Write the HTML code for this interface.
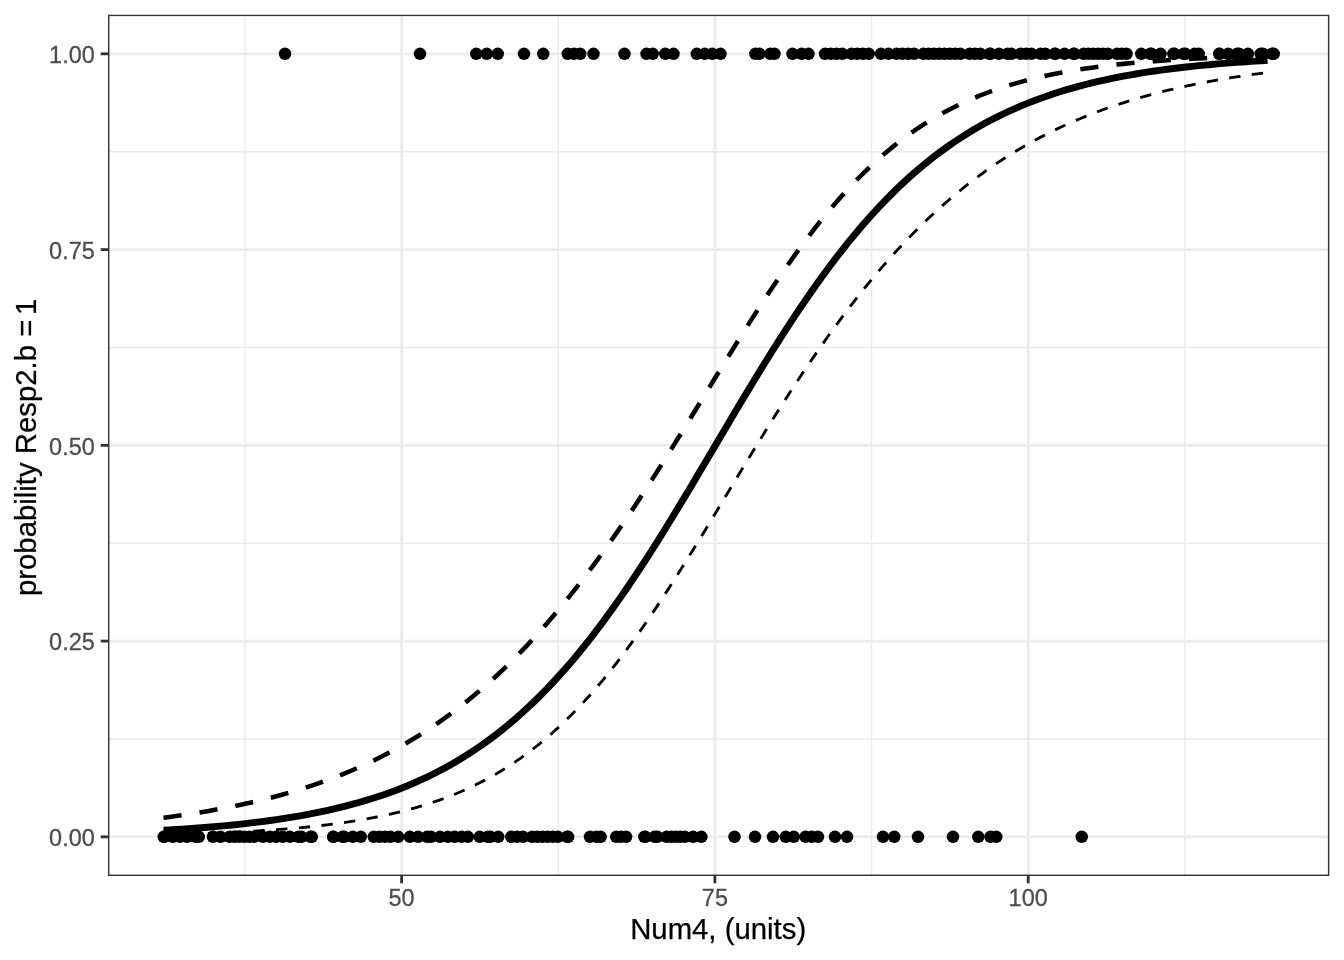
<!DOCTYPE html>
<html lang="en"><head><meta charset="utf-8"><title>Logistic fit: probability Resp2.b = 1 vs Num4</title>
<style>html,body{margin:0;padding:0;background:#fff}body{width:1344px;height:960px;overflow:hidden}svg{display:block}</style></head>
<body>
<svg width="1344" height="960" viewBox="0 0 1344 960">
<rect width="1344" height="960" fill="#fff"/>
<defs><clipPath id="pc"><rect x="108.00" y="14.67" width="1221.33" height="861.33"/></clipPath></defs>
<g clip-path="url(#pc)">
<g stroke="#ebebeb" stroke-width="1.42" fill="none">
<line x1="108.00" x2="1329.33" y1="738.97" y2="738.97"/>
<line x1="108.00" x2="1329.33" y1="543.21" y2="543.21"/>
<line x1="108.00" x2="1329.33" y1="347.46" y2="347.46"/>
<line x1="108.00" x2="1329.33" y1="151.70" y2="151.70"/>
<line x1="244.97" x2="244.97" y1="14.67" y2="876.00"/>
<line x1="558.26" x2="558.26" y1="14.67" y2="876.00"/>
<line x1="871.55" x2="871.55" y1="14.67" y2="876.00"/>
<line x1="1184.84" x2="1184.84" y1="14.67" y2="876.00"/>
</g>
<g stroke="#ebebeb" stroke-width="2.85" fill="none">
<line x1="108.00" x2="1329.33" y1="836.85" y2="836.85"/>
<line x1="108.00" x2="1329.33" y1="641.09" y2="641.09"/>
<line x1="108.00" x2="1329.33" y1="445.34" y2="445.34"/>
<line x1="108.00" x2="1329.33" y1="249.58" y2="249.58"/>
<line x1="108.00" x2="1329.33" y1="53.82" y2="53.82"/>
<line x1="401.62" x2="401.62" y1="14.67" y2="876.00"/>
<line x1="714.91" x2="714.91" y1="14.67" y2="876.00"/>
<line x1="1028.20" x2="1028.20" y1="14.67" y2="876.00"/>
</g>
<g fill="#000">
<circle cx="285.00" cy="53.82" r="6.25"/>
<circle cx="420.00" cy="53.82" r="6.25"/>
<circle cx="476.25" cy="53.82" r="6.25"/>
<circle cx="486.75" cy="53.82" r="6.25"/>
<circle cx="497.75" cy="53.82" r="6.25"/>
<circle cx="524.00" cy="53.82" r="6.25"/>
<circle cx="543.25" cy="53.82" r="6.25"/>
<circle cx="567.75" cy="53.82" r="6.25"/>
<circle cx="574.00" cy="53.82" r="6.25"/>
<circle cx="580.25" cy="53.82" r="6.25"/>
<circle cx="593.50" cy="53.82" r="6.25"/>
<circle cx="624.50" cy="53.82" r="6.25"/>
<circle cx="646.50" cy="53.82" r="6.25"/>
<circle cx="652.75" cy="53.82" r="6.25"/>
<circle cx="665.25" cy="53.82" r="6.25"/>
<circle cx="673.50" cy="53.82" r="6.25"/>
<circle cx="696.75" cy="53.82" r="6.25"/>
<circle cx="704.75" cy="53.82" r="6.25"/>
<circle cx="712.25" cy="53.82" r="6.25"/>
<circle cx="720.50" cy="53.82" r="6.25"/>
<circle cx="755.40" cy="53.82" r="6.25"/>
<circle cx="759.50" cy="53.82" r="6.25"/>
<circle cx="770.30" cy="53.82" r="6.25"/>
<circle cx="774.50" cy="53.82" r="6.25"/>
<circle cx="792.50" cy="53.82" r="6.25"/>
<circle cx="801.70" cy="53.82" r="6.25"/>
<circle cx="808.50" cy="53.82" r="6.25"/>
<circle cx="825.00" cy="53.82" r="6.25"/>
<circle cx="830.77" cy="53.82" r="6.25"/>
<circle cx="836.53" cy="53.82" r="6.25"/>
<circle cx="842.30" cy="53.82" r="6.25"/>
<circle cx="851.50" cy="53.82" r="6.25"/>
<circle cx="857.25" cy="53.82" r="6.25"/>
<circle cx="863.00" cy="53.82" r="6.25"/>
<circle cx="868.75" cy="53.82" r="6.25"/>
<circle cx="880.97" cy="53.82" r="6.25"/>
<circle cx="888.45" cy="53.82" r="6.25"/>
<circle cx="896.50" cy="53.82" r="6.25"/>
<circle cx="902.38" cy="53.82" r="6.25"/>
<circle cx="908.27" cy="53.82" r="6.25"/>
<circle cx="914.15" cy="53.82" r="6.25"/>
<circle cx="923.35" cy="53.82" r="6.25"/>
<circle cx="928.64" cy="53.82" r="6.25"/>
<circle cx="933.94" cy="53.82" r="6.25"/>
<circle cx="939.23" cy="53.82" r="6.25"/>
<circle cx="944.52" cy="53.82" r="6.25"/>
<circle cx="949.81" cy="53.82" r="6.25"/>
<circle cx="955.11" cy="53.82" r="6.25"/>
<circle cx="960.40" cy="53.82" r="6.25"/>
<circle cx="969.60" cy="53.82" r="6.25"/>
<circle cx="975.00" cy="53.82" r="6.25"/>
<circle cx="980.40" cy="53.82" r="6.25"/>
<circle cx="989.60" cy="53.82" r="6.25"/>
<circle cx="990.40" cy="53.82" r="6.25"/>
<circle cx="999.00" cy="53.82" r="6.25"/>
<circle cx="1007.60" cy="53.82" r="6.25"/>
<circle cx="1011.40" cy="53.82" r="6.25"/>
<circle cx="1020.60" cy="53.82" r="6.25"/>
<circle cx="1026.00" cy="53.82" r="6.25"/>
<circle cx="1031.40" cy="53.82" r="6.25"/>
<circle cx="1040.60" cy="53.82" r="6.25"/>
<circle cx="1045.40" cy="53.82" r="6.25"/>
<circle cx="1054.60" cy="53.82" r="6.25"/>
<circle cx="1055.40" cy="53.82" r="6.25"/>
<circle cx="1064.50" cy="53.82" r="6.25"/>
<circle cx="1073.60" cy="53.82" r="6.25"/>
<circle cx="1074.40" cy="53.82" r="6.25"/>
<circle cx="1083.60" cy="53.82" r="6.25"/>
<circle cx="1088.46" cy="53.82" r="6.25"/>
<circle cx="1093.32" cy="53.82" r="6.25"/>
<circle cx="1098.18" cy="53.82" r="6.25"/>
<circle cx="1103.04" cy="53.82" r="6.25"/>
<circle cx="1107.90" cy="53.82" r="6.25"/>
<circle cx="1117.10" cy="53.82" r="6.25"/>
<circle cx="1121.82" cy="53.82" r="6.25"/>
<circle cx="1126.55" cy="53.82" r="6.25"/>
<circle cx="1141.25" cy="53.82" r="6.25"/>
<circle cx="1150.20" cy="53.82" r="6.25"/>
<circle cx="1151.40" cy="53.82" r="6.25"/>
<circle cx="1160.53" cy="53.82" r="6.25"/>
<circle cx="1173.35" cy="53.82" r="6.25"/>
<circle cx="1174.40" cy="53.82" r="6.25"/>
<circle cx="1183.60" cy="53.82" r="6.25"/>
<circle cx="1185.40" cy="53.82" r="6.25"/>
<circle cx="1194.60" cy="53.82" r="6.25"/>
<circle cx="1198.75" cy="53.82" r="6.25"/>
<circle cx="1219.35" cy="53.82" r="6.25"/>
<circle cx="1219.40" cy="53.82" r="6.25"/>
<circle cx="1228.25" cy="53.82" r="6.25"/>
<circle cx="1237.10" cy="53.82" r="6.25"/>
<circle cx="1239.15" cy="53.82" r="6.25"/>
<circle cx="1247.92" cy="53.82" r="6.25"/>
<circle cx="1260.65" cy="53.82" r="6.25"/>
<circle cx="1262.90" cy="53.82" r="6.25"/>
<circle cx="1272.10" cy="53.82" r="6.25"/>
<circle cx="1273.75" cy="53.82" r="6.25"/>
<circle cx="163.75" cy="836.85" r="6.25"/>
<circle cx="164.15" cy="836.85" r="6.25"/>
<circle cx="172.82" cy="836.85" r="6.25"/>
<circle cx="179.95" cy="836.85" r="6.25"/>
<circle cx="187.00" cy="836.85" r="6.25"/>
<circle cx="195.60" cy="836.85" r="6.25"/>
<circle cx="198.75" cy="836.85" r="6.25"/>
<circle cx="212.98" cy="836.85" r="6.25"/>
<circle cx="220.50" cy="836.85" r="6.25"/>
<circle cx="229.60" cy="836.85" r="6.25"/>
<circle cx="234.51" cy="836.85" r="6.25"/>
<circle cx="239.42" cy="836.85" r="6.25"/>
<circle cx="244.33" cy="836.85" r="6.25"/>
<circle cx="249.24" cy="836.85" r="6.25"/>
<circle cx="254.15" cy="836.85" r="6.25"/>
<circle cx="262.88" cy="836.85" r="6.25"/>
<circle cx="270.00" cy="836.85" r="6.25"/>
<circle cx="276.20" cy="836.85" r="6.25"/>
<circle cx="282.70" cy="836.85" r="6.25"/>
<circle cx="289.88" cy="836.85" r="6.25"/>
<circle cx="298.35" cy="836.85" r="6.25"/>
<circle cx="301.40" cy="836.85" r="6.25"/>
<circle cx="310.60" cy="836.85" r="6.25"/>
<circle cx="311.75" cy="836.85" r="6.25"/>
<circle cx="333.15" cy="836.85" r="6.25"/>
<circle cx="333.40" cy="836.85" r="6.25"/>
<circle cx="342.60" cy="836.85" r="6.25"/>
<circle cx="344.15" cy="836.85" r="6.25"/>
<circle cx="352.82" cy="836.85" r="6.25"/>
<circle cx="360.75" cy="836.85" r="6.25"/>
<circle cx="373.75" cy="836.85" r="6.25"/>
<circle cx="379.30" cy="836.85" r="6.25"/>
<circle cx="384.85" cy="836.85" r="6.25"/>
<circle cx="390.40" cy="836.85" r="6.25"/>
<circle cx="398.23" cy="836.85" r="6.25"/>
<circle cx="409.90" cy="836.85" r="6.25"/>
<circle cx="418.12" cy="836.85" r="6.25"/>
<circle cx="427.10" cy="836.85" r="6.25"/>
<circle cx="431.00" cy="836.85" r="6.25"/>
<circle cx="440.00" cy="836.85" r="6.25"/>
<circle cx="447.82" cy="836.85" r="6.25"/>
<circle cx="454.62" cy="836.85" r="6.25"/>
<circle cx="461.50" cy="836.85" r="6.25"/>
<circle cx="467.88" cy="836.85" r="6.25"/>
<circle cx="479.73" cy="836.85" r="6.25"/>
<circle cx="487.60" cy="836.85" r="6.25"/>
<circle cx="490.40" cy="836.85" r="6.25"/>
<circle cx="498.23" cy="836.85" r="6.25"/>
<circle cx="511.25" cy="836.85" r="6.25"/>
<circle cx="517.08" cy="836.85" r="6.25"/>
<circle cx="522.90" cy="836.85" r="6.25"/>
<circle cx="532.10" cy="836.85" r="6.25"/>
<circle cx="537.26" cy="836.85" r="6.25"/>
<circle cx="542.42" cy="836.85" r="6.25"/>
<circle cx="547.58" cy="836.85" r="6.25"/>
<circle cx="552.74" cy="836.85" r="6.25"/>
<circle cx="557.90" cy="836.85" r="6.25"/>
<circle cx="567.10" cy="836.85" r="6.25"/>
<circle cx="568.15" cy="836.85" r="6.25"/>
<circle cx="590.00" cy="836.85" r="6.25"/>
<circle cx="596.50" cy="836.85" r="6.25"/>
<circle cx="600.60" cy="836.85" r="6.25"/>
<circle cx="616.25" cy="836.85" r="6.25"/>
<circle cx="620.80" cy="836.85" r="6.25"/>
<circle cx="626.10" cy="836.85" r="6.25"/>
<circle cx="644.35" cy="836.85" r="6.25"/>
<circle cx="645.40" cy="836.85" r="6.25"/>
<circle cx="654.60" cy="836.85" r="6.25"/>
<circle cx="657.30" cy="836.85" r="6.25"/>
<circle cx="666.50" cy="836.85" r="6.25"/>
<circle cx="671.08" cy="836.85" r="6.25"/>
<circle cx="675.65" cy="836.85" r="6.25"/>
<circle cx="680.22" cy="836.85" r="6.25"/>
<circle cx="684.80" cy="836.85" r="6.25"/>
<circle cx="693.15" cy="836.85" r="6.25"/>
<circle cx="701.38" cy="836.85" r="6.25"/>
<circle cx="734.50" cy="836.85" r="6.25"/>
<circle cx="755.00" cy="836.85" r="6.25"/>
<circle cx="773.00" cy="836.85" r="6.25"/>
<circle cx="785.75" cy="836.85" r="6.25"/>
<circle cx="793.75" cy="836.85" r="6.25"/>
<circle cx="805.50" cy="836.85" r="6.25"/>
<circle cx="811.75" cy="836.85" r="6.25"/>
<circle cx="818.00" cy="836.85" r="6.25"/>
<circle cx="835.00" cy="836.85" r="6.25"/>
<circle cx="847.00" cy="836.85" r="6.25"/>
<circle cx="883.00" cy="836.85" r="6.25"/>
<circle cx="894.25" cy="836.85" r="6.25"/>
<circle cx="918.00" cy="836.85" r="6.25"/>
<circle cx="953.00" cy="836.85" r="6.25"/>
<circle cx="978.25" cy="836.85" r="6.25"/>
<circle cx="990.50" cy="836.85" r="6.25"/>
<circle cx="996.25" cy="836.85" r="6.25"/>
<circle cx="1081.75" cy="836.85" r="6.25"/>
</g>
<path d="M163.51,830.26 L169.79,829.90 L176.06,829.51 L182.33,829.11 L188.61,828.68 L194.88,828.23 L201.15,827.76 L207.43,827.26 L213.70,826.73 L219.97,826.17 L226.24,825.59 L232.52,824.97 L238.79,824.32 L245.06,823.63 L251.34,822.91 L257.61,822.15 L263.88,821.35 L270.15,820.50 L276.43,819.61 L282.70,818.67 L288.97,817.68 L295.25,816.64 L301.52,815.55 L307.79,814.40 L314.07,813.18 L320.34,811.91 L326.61,810.56 L332.88,809.15 L339.16,807.67 L345.43,806.10 L351.70,804.46 L357.98,802.74 L364.25,800.92 L370.52,799.02 L376.79,797.02 L383.07,794.92 L389.34,792.71 L395.61,790.40 L401.89,787.98 L408.16,785.43 L414.43,782.77 L420.70,779.97 L426.98,777.04 L433.25,773.98 L439.52,770.77 L445.80,767.42 L452.07,763.91 L458.34,760.25 L464.62,756.42 L470.89,752.42 L477.16,748.25 L483.43,743.90 L489.71,739.37 L495.98,734.64 L502.25,729.73 L508.53,724.62 L514.80,719.30 L521.07,713.78 L527.34,708.06 L533.62,702.12 L539.89,695.96 L546.16,689.59 L552.44,683.00 L558.71,676.18 L564.98,669.15 L571.25,661.90 L577.53,654.42 L583.80,646.73 L590.07,638.81 L596.35,630.69 L602.62,622.35 L608.89,613.80 L615.17,605.05 L621.44,596.11 L627.71,586.98 L633.98,577.67 L640.26,568.18 L646.53,558.54 L652.80,548.74 L659.08,538.79 L665.35,528.72 L671.62,518.54 L677.89,508.25 L684.17,497.87 L690.44,487.41 L696.71,476.89 L702.99,466.33 L709.26,455.73 L715.53,445.12 L721.81,434.51 L728.08,423.92 L734.35,413.36 L740.62,402.84 L746.90,392.39 L753.17,382.01 L759.44,371.72 L765.72,361.54 L771.99,351.48 L778.26,341.54 L784.53,331.75 L790.81,322.11 L797.08,312.63 L803.35,303.32 L809.63,294.20 L815.90,285.26 L822.17,276.52 L828.44,267.99 L834.72,259.66 L840.99,251.54 L847.26,243.63 L853.54,235.95 L859.81,228.48 L866.08,221.23 L872.36,214.21 L878.63,207.41 L884.90,200.82 L891.17,194.46 L897.45,188.31 L903.72,182.38 L909.99,176.66 L916.27,171.15 L922.54,165.85 L928.81,160.74 L935.08,155.83 L941.36,151.12 L947.63,146.59 L953.90,142.25 L960.18,138.09 L966.45,134.10 L972.72,130.27 L978.99,126.61 L985.27,123.11 L991.54,119.77 L997.81,116.56 L1004.09,113.51 L1010.36,110.58 L1016.63,107.80 L1022.91,105.13 L1029.18,102.60 L1035.45,100.17 L1041.72,97.87 L1048.00,95.67 L1054.27,93.57 L1060.54,91.57 L1066.82,89.67 L1073.09,87.86 L1079.36,86.14 L1085.63,84.50 L1091.91,82.94 L1098.18,81.46 L1104.45,80.05 L1110.73,78.71 L1117.00,77.44 L1123.27,76.23 L1129.54,75.08 L1135.82,73.98 L1142.09,72.95 L1148.36,71.96 L1154.64,71.02 L1160.91,70.14 L1167.18,69.29 L1173.46,68.49 L1179.73,67.73 L1186.00,67.01 L1192.27,66.32 L1198.55,65.67 L1204.82,65.06 L1211.09,64.47 L1217.37,63.92 L1223.64,63.39 L1229.91,62.89 L1236.18,62.42 L1242.46,61.97 L1248.73,61.54 L1255.00,61.14 L1261.28,60.76 L1267.55,60.39" fill="none" stroke="#000" stroke-width="6.9" stroke-linejoin="round"/>
<path d="M163.51,817.71 L169.79,816.89 L176.06,816.03 L182.33,815.13 L188.61,814.20 L194.88,813.22 L201.15,812.21 L207.43,811.15 L213.70,810.05 L219.97,808.90 L226.24,807.71 L232.52,806.46 L238.79,805.17 L245.06,803.82 L251.34,802.42 L257.61,800.95 L263.88,799.43 L270.15,797.85 L276.43,796.20 L282.70,794.48 L288.97,792.70 L295.25,790.85 L301.52,788.92 L307.79,786.91 L314.07,784.82 L320.34,782.66 L326.61,780.40 L332.88,778.06 L339.16,775.63 L345.43,773.11 L351.70,770.49 L357.98,767.77 L364.25,764.94 L370.52,762.01 L376.79,758.97 L383.07,755.82 L389.34,752.56 L395.61,749.17 L401.89,745.66 L408.16,742.03 L414.43,738.27 L420.70,734.37 L426.98,730.34 L433.25,726.17 L439.52,721.86 L445.80,717.41 L452.07,712.81 L458.34,708.05 L464.62,703.15 L470.89,698.08 L477.16,692.86 L483.43,687.48 L489.71,681.93 L495.98,676.21 L502.25,670.33 L508.53,664.28 L514.80,658.05 L521.07,651.65 L527.34,645.08 L533.62,638.33 L539.89,631.41 L546.16,624.31 L552.44,617.04 L558.71,609.58 L564.98,601.96 L571.25,594.16 L577.53,586.19 L583.80,578.05 L590.07,569.74 L596.35,561.27 L602.62,552.63 L608.89,543.84 L615.17,534.90 L621.44,525.81 L627.71,516.58 L633.98,507.21 L640.26,497.72 L646.53,488.10 L652.80,478.37 L659.08,468.54 L665.35,458.62 L671.62,448.61 L677.89,438.54 L684.17,428.40 L690.44,418.22 L696.71,408.00 L702.99,397.76 L709.26,387.51 L715.53,377.28 L721.81,367.06 L728.08,356.89 L734.35,346.77 L740.62,336.73 L746.90,326.76 L753.17,316.90 L759.44,307.16 L765.72,297.55 L771.99,288.08 L778.26,278.78 L784.53,269.64 L790.81,260.69 L797.08,251.94 L803.35,243.39 L809.63,235.05 L815.90,226.94 L822.17,219.05 L828.44,211.40 L834.72,203.98 L840.99,196.81 L847.26,189.88 L853.54,183.19 L859.81,176.75 L866.08,170.55 L872.36,164.59 L878.63,158.87 L884.90,153.39 L891.17,148.14 L897.45,143.12 L903.72,138.33 L909.99,133.75 L916.27,129.38 L922.54,125.22 L928.81,121.25 L935.08,117.49 L941.36,113.90 L947.63,110.50 L953.90,107.27 L960.18,104.21 L966.45,101.31 L972.72,98.56 L978.99,95.96 L985.27,93.50 L991.54,91.17 L997.81,88.97 L1004.09,86.89 L1010.36,84.93 L1016.63,83.08 L1022.91,81.33 L1029.18,79.68 L1035.45,78.12 L1041.72,76.66 L1048.00,75.28 L1054.27,73.98 L1060.54,72.76 L1066.82,71.60 L1073.09,70.52 L1079.36,69.50 L1085.63,68.54 L1091.91,67.64 L1098.18,66.79 L1104.45,65.99 L1110.73,65.24 L1117.00,64.54 L1123.27,63.88 L1129.54,63.25 L1135.82,62.67 L1142.09,62.12 L1148.36,61.61 L1154.64,61.12 L1160.91,60.67 L1167.18,60.24 L1173.46,59.84 L1179.73,59.47 L1186.00,59.12 L1192.27,58.78 L1198.55,58.47 L1204.82,58.18 L1211.09,57.91 L1217.37,57.66 L1223.64,57.41 L1229.91,57.19 L1236.18,56.98 L1242.46,56.78 L1248.73,56.59 L1255.00,56.42 L1261.28,56.26 L1267.55,56.10" fill="none" stroke="#000" stroke-width="4.55" stroke-dasharray="18.2 18.2" stroke-linejoin="round"/>
<path d="M163.51,834.60 L169.79,834.45 L176.06,834.29 L182.33,834.12 L188.61,833.94 L194.88,833.75 L201.15,833.54 L207.43,833.32 L213.70,833.08 L219.97,832.83 L226.24,832.56 L232.52,832.27 L238.79,831.97 L245.06,831.64 L251.34,831.30 L257.61,830.93 L263.88,830.53 L270.15,830.11 L276.43,829.67 L282.70,829.19 L288.97,828.69 L295.25,828.15 L301.52,827.57 L307.79,826.96 L314.07,826.31 L320.34,825.61 L326.61,824.87 L332.88,824.09 L339.16,823.25 L345.43,822.36 L351.70,821.42 L357.98,820.41 L364.25,819.34 L370.52,818.21 L376.79,817.00 L383.07,815.72 L389.34,814.36 L395.61,812.91 L401.89,811.38 L408.16,809.75 L414.43,808.02 L420.70,806.19 L426.98,804.26 L433.25,802.20 L439.52,800.03 L445.80,797.72 L452.07,795.29 L458.34,792.72 L464.62,790.00 L470.89,787.12 L477.16,784.09 L483.43,780.89 L489.71,777.52 L495.98,773.97 L502.25,770.23 L508.53,766.30 L514.80,762.16 L521.07,757.83 L527.34,753.27 L533.62,748.50 L539.89,743.51 L546.16,738.28 L552.44,732.82 L558.71,727.12 L564.98,721.18 L571.25,714.99 L577.53,708.55 L583.80,701.87 L590.07,694.94 L596.35,687.75 L602.62,680.33 L608.89,672.65 L615.17,664.74 L621.44,656.59 L627.71,648.21 L633.98,639.61 L640.26,630.80 L646.53,621.79 L652.80,612.58 L659.08,603.20 L665.35,593.64 L671.62,583.93 L677.89,574.09 L684.17,564.12 L690.44,554.04 L696.71,543.87 L702.99,533.63 L709.26,523.33 L715.53,512.98 L721.81,502.61 L728.08,492.23 L734.35,481.86 L740.62,471.51 L746.90,461.19 L753.17,450.92 L759.44,440.72 L765.72,430.59 L771.99,420.56 L778.26,410.62 L784.53,400.79 L790.81,391.08 L797.08,381.49 L803.35,372.04 L809.63,362.74 L815.90,353.58 L822.17,344.58 L828.44,335.74 L834.72,327.06 L840.99,318.55 L847.26,310.21 L853.54,302.05 L859.81,294.06 L866.08,286.25 L872.36,278.62 L878.63,271.17 L884.90,263.90 L891.17,256.81 L897.45,249.91 L903.72,243.18 L909.99,236.63 L916.27,230.26 L922.54,224.06 L928.81,218.04 L935.08,212.19 L941.36,206.52 L947.63,201.01 L953.90,195.67 L960.18,190.49 L966.45,185.47 L972.72,180.60 L978.99,175.90 L985.27,171.34 L991.54,166.93 L997.81,162.67 L1004.09,158.55 L1010.36,154.57 L1016.63,150.72 L1022.91,147.01 L1029.18,143.42 L1035.45,139.96 L1041.72,136.62 L1048.00,133.40 L1054.27,130.29 L1060.54,127.29 L1066.82,124.41 L1073.09,121.63 L1079.36,118.95 L1085.63,116.37 L1091.91,113.88 L1098.18,111.49 L1104.45,109.19 L1110.73,106.97 L1117.00,104.84 L1123.27,102.79 L1129.54,100.82 L1135.82,98.92 L1142.09,97.10 L1148.36,95.35 L1154.64,93.66 L1160.91,92.04 L1167.18,90.49 L1173.46,88.99 L1179.73,87.56 L1186.00,86.18 L1192.27,84.86 L1198.55,83.59 L1204.82,82.36 L1211.09,81.19 L1217.37,80.07 L1223.64,78.99 L1229.91,77.95 L1236.18,76.96 L1242.46,76.00 L1248.73,75.09 L1255.00,74.21 L1261.28,73.36 L1267.55,72.55" fill="none" stroke="#000" stroke-width="2.85" stroke-dasharray="11.39 11.39" stroke-dashoffset="1.2" stroke-linejoin="round"/>
<rect x="108.00" y="14.67" width="1221.33" height="861.33" fill="none" stroke="#333" stroke-width="2.85"/>
</g>
<g stroke="#333" stroke-width="2.85">
<line x1="100.67" x2="108.00" y1="836.85" y2="836.85"/>
<line x1="100.67" x2="108.00" y1="641.09" y2="641.09"/>
<line x1="100.67" x2="108.00" y1="445.34" y2="445.34"/>
<line x1="100.67" x2="108.00" y1="249.58" y2="249.58"/>
<line x1="100.67" x2="108.00" y1="53.82" y2="53.82"/>
<line x1="401.62" x2="401.62" y1="876.00" y2="883.33"/>
<line x1="714.91" x2="714.91" y1="876.00" y2="883.33"/>
<line x1="1028.20" x2="1028.20" y1="876.00" y2="883.33"/>
</g>
<g font-family="'Liberation Sans', Arial, Helvetica, sans-serif" font-size="23.47" fill="#4d4d4d" stroke="#4d4d4d" stroke-width="0.3">
<text x="94.8" y="846.05" text-anchor="end">0.00</text>
<text x="94.8" y="650.29" text-anchor="end">0.25</text>
<text x="94.8" y="454.54" text-anchor="end">0.50</text>
<text x="94.8" y="258.78" text-anchor="end">0.75</text>
<text x="94.8" y="63.02" text-anchor="end">1.00</text>
<text x="401.62" y="906" text-anchor="middle">50</text>
<text x="714.91" y="906" text-anchor="middle">75</text>
<text x="1028.20" y="906" text-anchor="middle">100</text>
</g>
<g font-family="'Liberation Sans', Arial, Helvetica, sans-serif" font-size="29.33" fill="#000" stroke="#000" stroke-width="0.25">
<text x="718.16" y="939.2" text-anchor="middle">Num4, (units)</text>
<text transform="translate(36.1,447.33) rotate(-90)" text-anchor="middle">probability Resp2.b = <tspan dx="-3.4">1</tspan></text>
</g>
</svg>
</body></html>
